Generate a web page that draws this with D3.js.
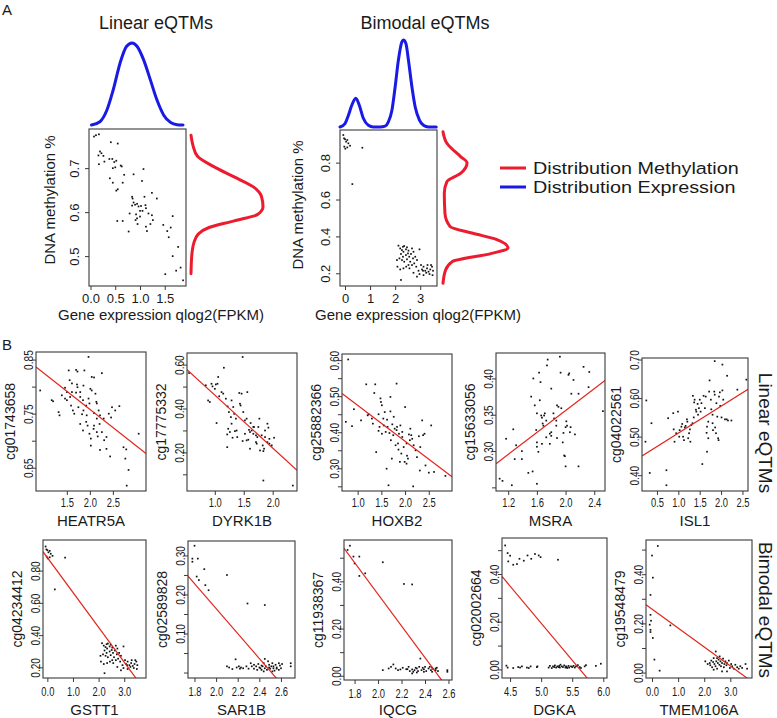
<!DOCTYPE html>
<html><head><meta charset="utf-8">
<script src="https://cdn.jsdelivr.net/npm/d3@7"></script>
<style>body{margin:0;background:#fff}svg{display:block}text{font-family:"Liberation Sans",Arial,Helvetica,sans-serif;fill:#1a1a1a}</style>
</head><body><svg id="c" width="777" height="718"></svg>
<script>
// ---------------- DATA ----------------
// Panel A, linear example
const linPoints=[[0.07,0.772],[0.11,0.775],[0.17,0.777],[0.19,0.738],[0.22,0.734],[0.16,0.729],[0.26,0.728],[0.17,0.709],[0.28,0.715],[0.41,0.759],[0.55,0.756],[0.38,0.721],[0.44,0.721],[0.48,0.714],[0.52,0.717],[0.45,0.70],[0.50,0.702],[0.39,0.677],[0.45,0.667],[0.52,0.649],[0.55,0.652],[0.65,0.667],[0.68,0.685],[0.61,0.706],[0.63,0.704],[1.07,0.698],[0.87,0.686],[1.04,0.671],[0.84,0.635],[0.85,0.631],[0.87,0.622],[0.90,0.617],[0.84,0.615],[0.94,0.619],[0.97,0.613],[1.02,0.614],[1.00,0.603],[1.05,0.603],[1.09,0.635],[1.11,0.616],[1.12,0.609],[1.17,0.597],[1.24,0.644],[1.34,0.631],[1.24,0.593],[1.26,0.582],[1.21,0.573],[0.79,0.597],[0.92,0.595],[0.94,0.586],[0.91,0.582],[0.95,0.573],[1.00,0.590],[0.54,0.580],[0.65,0.580],[0.77,0.556],[1.12,0.567],[1.14,0.557],[1.47,0.571],[1.55,0.557],[1.58,0.543],[1.66,0.591],[1.62,0.565],[1.77,0.521],[1.66,0.50],[1.51,0.459],[1.73,0.467],[1.82,0.474],[1.87,0.445]];
const linExprDensity=[[0.02,0],[0.19,0.04],[0.33,0.18],[0.46,0.43],[0.60,0.76],[0.73,0.96],[0.84,1.0],[0.94,0.96],[1.07,0.80],[1.21,0.55],[1.34,0.31],[1.48,0.12],[1.62,0.03],[1.75,0.004],[1.87,0]];
const linMethDensity=[[0.775,0],[0.75,0.03],[0.727,0.09],[0.704,0.31],[0.68,0.6],[0.658,0.86],[0.635,0.98],[0.612,1.0],[0.595,0.93],[0.58,0.6],[0.565,0.25],[0.55,0.1],[0.53,0.04],[0.5,0.01],[0.46,0]];
// Bimodal example (GSTT1 / cg04234412) - also panel B
const gsttPoints=[[-0.07,0.95],[-0.04,0.932],[0,0.927],[0.04,0.914],[0.09,0.923],[-0.03,0.887],[0.01,0.876],[0.09,0.883],[0.2,0.892],[0.13,0.905],[0.69,0.881],[0.29,0.684],[2.13,0.35],[2.2,0.335],[2.27,0.326],[2.31,0.344],[2.36,0.348],[2.33,0.317],[2.43,0.33],[2.47,0.341],[2.53,0.323],[2.51,0.308],[2.43,0.299],[2.31,0.29],[2.23,0.305],[2.17,0.281],[2.27,0.272],[2.36,0.263],[2.47,0.276],[2.56,0.29],[2.63,0.305],[2.67,0.335],[2.73,0.317],[2.71,0.281],[2.6,0.263],[2.53,0.245],[2.44,0.236],[2.33,0.227],[2.2,0.221],[2.57,0.227],[2.67,0.245],[2.76,0.254],[2.8,0.29],[2.87,0.272],[2.84,0.236],[2.97,0.33],[3.07,0.221],[3.13,0.236],[3.2,0.214],[3.27,0.227],[3.33,0.209],[3.4,0.221],[3.47,0.236],[3.51,0.214],[3.24,0.203],[3.13,0.19],[2.97,0.196],[2.87,0.182],[2.23,0.164],[3.43,0.245],[3.49,0.19],[2.07,0.272],[2.09,0.236],[2.93,0.214],[3.03,0.245],[2.73,0.203],[3.11,0.214],[3.29,0.245],[3.37,0.196]];
const biExprDensity=[[-0.2,0],[0,0.04],[0.13,0.13],[0.27,0.25],[0.43,0.33],[0.57,0.25],[0.73,0.1],[0.93,0.02],[1.13,0],[1.4,0],[1.6,0.01],[1.73,0.06],[1.87,0.19],[2.0,0.46],[2.13,0.77],[2.27,0.98],[2.33,1.0],[2.43,0.96],[2.53,0.77],[2.67,0.46],[2.8,0.23],[2.97,0.08],[3.13,0.02],[3.33,0],[3.64,0]];
const biMethDensity=[[0.968,0],[0.905,0.06],[0.833,0.27],[0.8,0.37],[0.742,0.27],[0.697,0.06],[0.634,0.02],[0.525,0.03],[0.453,0.11],[0.417,0.46],[0.384,0.82],[0.337,1.0],[0.308,0.75],[0.263,0.14],[0.218,0.04],[0.146,0]];
// Panel B, linear eQTMs
const heatr5aPoints=[[0.92,0.793],[1.17,0.775],[1.2,0.773],[1.32,0.753],[1.34,0.747],[1.54,0.83],[1.56,0.812],[1.7,0.831],[1.73,0.828],[1.88,0.83],[1.97,0.855],[2.04,0.818],[2.09,0.817],[2.26,0.825],[1.46,0.778],[1.5,0.775],[1.59,0.765],[1.63,0.756],[1.66,0.75],[1.5,0.79],[1.61,0.79],[1.7,0.789],[1.79,0.79],[1.61,0.806],[1.72,0.804],[1.73,0.799],[1.79,0.781],[1.85,0.775],[1.86,0.756],[1.92,0.765],[1.97,0.778],[1.99,0.769],[2.01,0.796],[2.04,0.793],[2.12,0.787],[2.14,0.772],[2.15,0.769],[1.79,0.731],[1.85,0.719],[1.92,0.735],[1.95,0.728],[1.99,0.713],[2.02,0.704],[2.08,0.722],[2.09,0.728],[2.15,0.716],[2.17,0.708],[2.21,0.731],[2.22,0.747],[2.3,0.741],[2.26,0.716],[2.31,0.701],[2.36,0.707],[2.02,0.691],[2.22,0.683],[2.36,0.685],[2.44,0.671],[2.41,0.75],[2.46,0.743],[2.55,0.756],[2.64,0.764],[2.48,0.762],[2.73,0.688],[2.79,0.684],[2.77,0.667],[2.84,0.646],[2.8,0.617],[3.06,0.713],[1.86,0.802],[1.46,0.798],[1.39,0.784],[1.57,0.781],[1.75,0.762],[1.83,0.749],[1.93,0.747],[2.15,0.741],[2.09,0.751],[2.19,0.756]];
const dyrk1bPoints=[[0.555,0.562],[0.844,0.506],[0.884,0.437],[0.913,0.43],[0.96,0.501],[1.0,0.49],[1.046,0.513],[1.058,0.544],[1.156,0.586],[1.116,0.475],[1.145,0.468],[1.19,0.445],[1.03,0.334],[1.22,0.41],[1.243,0.384],[1.289,0.437],[1.318,0.407],[1.277,0.361],[1.289,0.331],[1.26,0.293],[1.231,0.308],[1.214,0.224],[1.335,0.376],[1.364,0.354],[1.376,0.3],[1.422,0.471],[1.434,0.422],[1.445,0.414],[1.462,0.468],[1.48,0.635],[1.491,0.384],[1.52,0.346],[1.549,0.354],[1.561,0.475],[1.59,0.303],[1.607,0.293],[1.549,0.255],[1.578,0.258],[1.52,0.285],[1.618,0.334],[1.636,0.3],[1.665,0.285],[1.676,0.316],[1.607,0.217],[1.711,0.247],[1.734,0.27],[1.751,0.316],[1.769,0.354],[1.723,0.24],[1.809,0.278],[1.827,0.232],[1.85,0.217],[1.838,0.206],[1.867,0.27],[1.867,0.3],[1.908,0.331],[1.925,0.313],[1.942,0.262],[1.78,0.209],[1.908,0.247],[1.942,0.24],[1.711,0.278],[1.665,0.316],[1.838,0.072],[2.347,0.049],[1.983,0.232],[2.023,0.267],[1.214,0.282],[1.306,0.267],[1.387,0.27],[1.347,0.297],[1.48,0.252],[1.017,0.51],[1.075,0.456],[0.942,0.513]];
const hoxb2Points=[[0.80,0.602],[0.75,0.429],[0.88,0.417],[0.92,0.464],[1.07,0.433],[1.18,0.533],[1.21,0.447],[1.23,0.45],[1.30,0.438],[1.32,0.424],[1.35,0.509],[1.37,0.533],[1.39,0.345],[1.44,0.45],[1.46,0.415],[1.48,0.494],[1.49,0.484],[1.51,0.475],[1.54,0.438],[1.55,0.419],[1.57,0.456],[1.59,0.401],[1.61,0.299],[1.62,0.435],[1.63,0.415],[1.65,0.253],[1.67,0.398],[1.69,0.498],[1.69,0.458],[1.70,0.378],[1.72,0.327],[1.73,0.422],[1.75,0.392],[1.76,0.443],[1.78,0.41],[1.80,0.364],[1.82,0.535],[1.83,0.415],[1.85,0.369],[1.86,0.352],[1.87,0.396],[1.90,0.419],[1.92,0.341],[1.94,0.401],[1.94,0.387],[1.97,0.359],[1.99,0.318],[2.00,0.47],[2.03,0.369],[2.04,0.335],[2.06,0.327],[2.08,0.394],[2.10,0.378],[2.11,0.41],[2.13,0.392],[2.15,0.382],[2.17,0.25],[2.18,0.364],[2.22,0.35],[2.25,0.331],[2.29,0.389],[2.31,0.294],[2.32,0.359],[2.36,0.433],[2.38,0.392],[2.41,0.396],[2.43,0.308],[2.50,0.288],[2.55,0.419],[2.61,0.29],[2.85,0.279],[1.51,0.396],[1.44,0.404],[1.82,0.406],[1.89,0.318],[2.03,0.313]];
const msraPoints=[[1.08,0.262],[1.12,0.259],[1.25,0.253],[1.17,0.317],[1.27,0.330],[1.31,0.308],[1.29,0.289],[1.39,0.30],[1.39,0.289],[1.48,0.270],[1.54,0.272],[1.52,0.375],[1.55,0.40],[1.59,0.329],[1.60,0.312],[1.60,0.306],[1.62,0.299],[1.60,0.255],[1.63,0.408],[1.64,0.370],[1.65,0.395],[1.66,0.349],[1.67,0.346],[1.68,0.338],[1.69,0.335],[1.71,0.352],[1.73,0.342],[1.74,0.418],[1.75,0.426],[1.78,0.324],[1.80,0.321],[1.80,0.326],[1.80,0.386],[1.83,0.352],[1.84,0.345],[1.87,0.342],[1.87,0.335],[1.88,0.363],[1.90,0.361],[1.92,0.43],[1.93,0.408],[1.94,0.359],[1.97,0.325],[1.98,0.294],[1.99,0.293],[2.00,0.279],[2.00,0.333],[2.01,0.341],[2.02,0.335],[2.04,0.405],[2.05,0.407],[2.06,0.326],[2.07,0.333],[2.08,0.379],[2.11,0.398],[2.13,0.323],[2.18,0.379],[2.18,0.279],[2.25,0.416],[2.33,0.409],[2.32,0.388],[2.52,0.355],[1.78,0.310],[1.73,0.319],[1.67,0.310],[1.88,0.318],[1.96,0.312],[1.57,0.363],[1.60,0.352],[1.70,0.349]];
const isl1Points=[[0.25,0.594],[0.23,0.487],[0.33,0.406],[0.37,0.535],[0.72,0.413],[0.76,0.548],[0.88,0.561],[0.89,0.519],[0.91,0.487],[0.95,0.509],[0.99,0.565],[1.02,0.50],[1.03,0.517],[1.07,0.526],[1.09,0.533],[1.11,0.50],[1.13,0.491],[1.15,0.524],[1.17,0.528],[1.20,0.545],[1.21,0.539],[1.23,0.496],[1.25,0.509],[1.27,0.519],[1.28,0.487],[1.30,0.530],[1.33,0.535],[1.34,0.606],[1.36,0.550],[1.37,0.589],[1.38,0.596],[1.41,0.570],[1.42,0.565],[1.45,0.585],[1.46,0.557],[1.48,0.574],[1.50,0.596],[1.52,0.565],[1.54,0.587],[1.56,0.429],[1.59,0.606],[1.62,0.574],[1.64,0.604],[1.66,0.510],[1.67,0.526],[1.67,0.461],[1.70,0.539],[1.70,0.496],[1.72,0.617],[1.73,0.646],[1.76,0.596],[1.77,0.571],[1.80,0.535],[1.81,0.517],[1.84,0.617],[1.85,0.609],[1.86,0.524],[1.88,0.509],[1.89,0.587],[1.91,0.552],[1.93,0.496],[1.94,0.491],[1.95,0.604],[1.97,0.615],[1.98,0.580],[2.01,0.550],[2.03,0.620],[2.05,0.596],[2.09,0.545],[2.13,0.545],[2.16,0.542],[2.24,0.542],[1.85,0.696],[2.03,0.687],[2.14,0.658],[2.59,0.648],[2.38,0.622],[0.72,0.374],[1.80,0.557]];
// Panel B, bimodal eQTMs
const sar1bPoints=[[1.80,0.325],[1.78,0.292],[1.78,0.284],[1.83,0.292],[1.82,0.246],[1.84,0.237],[1.89,0.265],[1.90,0.224],[1.93,0.211],[2.10,0.250],[2.29,0.177],[2.45,0.173],[2.10,0.016],[2.15,0.009],[2.18,0.034],[2.19,0.013],[2.21,0.016],[2.22,0.010],[2.25,0.011],[2.28,0.016],[2.30,0.010],[2.32,0.024],[2.33,0.016],[2.35,0.020],[2.35,0.010],[2.37,0.016],[2.38,0.007],[2.39,0.022],[2.40,0.013],[2.41,0.011],[2.42,0.018],[2.42,0.007],[2.43,0.016],[2.44,0.024],[2.45,0.011],[2.45,0.035],[2.46,0.016],[2.47,0.007],[2.48,0.029],[2.49,0.013],[2.49,0.020],[2.50,0.010],[2.51,0.016],[2.52,0.024],[2.53,0.011],[2.53,0.016],[2.54,0.005],[2.55,0.020],[2.56,0.010],[2.56,0.013],[2.58,0.007],[2.59,0.018],[2.60,0.011],[2.61,0.022],[2.58,0.024],[2.52,0.003],[2.44,0.003],[2.69,0.024],[2.69,0.016],[2.23,0.013],[2.12,0.013]];
const iqcgPoints=[[1.74,0.533],[1.76,0.551],[1.79,0.505],[1.80,0.476],[1.84,0.505],[1.84,0.423],[1.89,0.434],[2.04,0.481],[2.22,0.389],[2.29,0.387],[2.04,0.024],[2.09,0.031],[2.11,0.038],[2.13,0.048],[2.15,0.031],[2.17,0.024],[2.21,0.034],[2.24,0.028],[2.26,0.038],[2.27,0.020],[2.29,0.027],[2.30,0.017],[2.31,0.024],[2.32,0.034],[2.33,0.014],[2.33,0.031],[2.34,0.020],[2.35,0.038],[2.36,0.073],[2.37,0.024],[2.38,0.034],[2.39,0.017],[2.39,0.028],[2.40,0.038],[2.41,0.020],[2.43,0.031],[2.44,0.038],[2.45,0.024],[2.46,0.034],[2.47,0.028],[2.49,0.031],[2.49,0.024],[2.50,0.034],[2.51,0.020],[2.59,0.024],[2.59,0.017],[2.29,0.010],[2.25,0.028],[2.19,0.027],[2.46,0.017]];
const dgkaPoints=[[4.42,0.520],[4.46,0.488],[4.47,0.453],[4.50,0.477],[4.55,0.439],[4.61,0.442],[4.65,0.464],[4.72,0.456],[4.78,0.478],[4.84,0.464],[4.90,0.484],[4.96,0.478],[4.99,0.471],[5.27,0.460],[4.44,0.016],[4.46,0.008],[4.55,0.006],[4.63,0.01],[4.66,0.008],[4.69,0.013],[4.77,0.008],[4.80,0.006],[4.83,0.013],[4.93,0.01],[4.94,0.013],[5.12,0.008],[5.14,0.015],[5.17,0.006],[5.19,0.013],[5.21,0.01],[5.22,0.017],[5.24,0.008],[5.26,0.013],[5.28,0.01],[5.29,0.015],[5.30,0.008],[5.33,0.013],[5.35,0.01],[5.37,0.017],[5.39,0.008],[5.40,0.013],[5.41,0.01],[5.44,0.015],[5.45,0.008],[5.48,0.013],[5.50,0.01],[5.52,0.015],[5.54,0.008],[5.56,0.013],[5.59,0.018],[5.62,0.01],[5.64,0.006],[5.70,0.013],[5.72,0.018],[5.88,0.015],[5.96,0.024],[5.42,0.006],[5.31,0.02]];
const tmem106aPoints=[[0.22,0.515],[0.0,0.476],[0.03,0.386],[-0.06,0.316],[-0.06,0.235],[-0.04,0.211],[-0.09,0.195],[-0.06,0.174],[-0.06,0.165],[0.03,0.141],[0.09,0.053],[0.29,0.008],[0.70,0.192],[2.04,0.046],[2.13,0.035],[2.21,0.039],[2.23,0.030],[2.27,0.049],[2.30,0.022],[2.34,0.043],[2.36,0.059],[2.39,0.035],[2.43,0.026],[2.44,0.086],[2.46,0.046],[2.49,0.016],[2.52,0.039],[2.55,0.053],[2.58,0.032],[2.59,0.066],[2.62,0.046],[2.64,0.026],[2.68,0.039],[2.72,0.057],[2.75,0.022],[2.77,0.035],[2.81,0.046],[2.85,0.030],[2.87,0.039],[2.94,0.049],[2.98,0.019],[3.03,0.035],[3.07,0.026],[3.13,0.016],[3.19,0.032],[3.26,0.022],[3.32,0.016],[3.38,0.026],[3.45,0.019],[3.58,0.035],[3.64,0.016],[2.87,0.005],[2.68,0.005],[2.49,0.059],[2.36,0.012]];
// fitted regression lines [intercept, slope]
const fitHEATR5A=[0.892,-0.067], fitDYRK1B=[0.703,-0.2416], fitHOXB2=[0.574,-0.0996], fitMSRA=[0.205,0.0753], fitISL1=[0.4395,0.0698];
const fitGSTT1=[0.881,-0.2163], fitSAR1B=[0.804,-0.32], fitIQCG=[1.687,-0.671], fitDGKA=[1.749,-0.311], fitTMEM106A=[0.258,-0.077];
// tick values
const tA1x=[0,0.5,1,1.5], tA1y=[0.5,0.6,0.7], tA2x=[0,1,2,3], tA2y=[0.2,0.4,0.6,0.8];
const legendLabels=["Distribution Methylation","Distribution Expression"];

// ---------------- DRAWING ----------------
const svg=d3.select("#c");
const RED="#ec1b2e", BLUE="#1a1ae6", FITRED="#e3231c";
let clipN=0;

function rotText(g,x,y,txt,size,sx,ang){
  return g.append("text").attr("transform",`translate(${x},${y}) rotate(${ang}) scale(${sx},1)`)
    .attr("text-anchor","middle").attr("dy","0.36em").style("font-size",size+"px").text(txt);
}

function scatter(cfg){
  const [l,t,r,b]=cfg.box;
  const x=d3.scaleLinear().domain(cfg.xd).range([l,r]);
  const y=d3.scaleLinear().domain(cfg.yd).range([b,t]);
  const id="cl"+(clipN++);
  svg.append("clipPath").attr("id",id).append("rect").attr("x",l).attr("y",t).attr("width",r-l).attr("height",b-t);
  const g=svg.append("g");
  g.append("g").selectAll("rect").data(cfg.pts).join("rect")
    .attr("x",d=>x(d[0])-0.8).attr("y",d=>y(d[1])-0.8).attr("width",1.7).attr("height",1.7).attr("fill","#111");
  if(cfg.fit){
    const [a,s]=cfg.fit;
    g.append("line").attr("clip-path",`url(#${id})`)
      .attr("x1",x(cfg.xd[0])).attr("y1",y(a+s*cfg.xd[0])).attr("x2",x(cfg.xd[1])).attr("y2",y(a+s*cfg.xd[1]))
      .attr("stroke",FITRED).attr("stroke-width",1.2);
  }
  g.append("rect").attr("x",l).attr("y",t).attr("width",r-l).attr("height",b-t)
    .attr("fill","none").attr("stroke","#3a3a3a").attr("stroke-width",1.1);
  const ax=g.append("g").attr("transform",`translate(0,${b})`)
    .call(d3.axisBottom(x).tickValues(cfg.xt).tickSize(cfg.tk).tickFormat(d3.format(cfg.xf)));
  ax.select(".domain").remove();
  ax.selectAll("line").attr("stroke","#3a3a3a");
  ax.selectAll("text").attr("y",null).attr("dy",null)
    .attr("transform",`translate(0,${cfg.xlo}) scale(${cfg.sx},1)`).style("font-size",cfg.fs+"px");
  const ay=g.append("g").attr("transform",`translate(${l},0)`)
    .call(d3.axisLeft(y).tickValues(cfg.yt).tickSize(cfg.tk).tickFormat(d=>cfg.yl.some(v=>Math.abs(v-d)<1e-9)?d3.format(cfg.yf)(d):""));
  ay.select(".domain").remove();
  ay.selectAll("line").attr("stroke","#3a3a3a");
  ay.selectAll("text").attr("x",null).attr("dy","0.36em").attr("text-anchor","middle")
    .attr("transform",`translate(${-cfg.ylo},0) rotate(-90) scale(${cfg.sy},1)`).style("font-size",cfg.fs+"px");
  ax.attr("font-family",null); ay.attr("font-family",null);
  if(cfg.xt2) g.append("text").attr("x",cfg.xt2[1]).attr("y",cfg.xt2[2]).attr("text-anchor","middle").style("font-size",cfg.tfs+"px").text(cfg.xt2[0]);
  if(cfg.yt2) rotText(g,cfg.yt2[1],cfg.yt2[2],cfg.yt2[0],cfg.yfs||cfg.tfs,1,-90);
  return {x,y};
}

// ---- Panel A ----
svg.append("text").attr("x",2).attr("y",15).style("font-size","15px").text("A");
svg.append("text").attr("x",156).attr("y",29).attr("text-anchor","middle").style("font-size","18px").text("Linear eQTMs");
svg.append("text").attr("x",425).attr("y",29).attr("text-anchor","middle").style("font-size","18px").text("Bimodal eQTMs");

const A1=scatter({box:[89,129,186,286],xd:[-0.03,1.93],yd:[0.432,0.789],pts:linPoints,
  xt:tA1x,xf:".1f",yt:tA1y,yl:tA1y,yf:".1f",tk:4,xlo:17,ylo:15,fs:13,sx:1,sy:1,tfs:15,
  xt2:["Gene expression qlog2(FPKM)",161,320],yt2:["DNA methylation %",50,200]});
const A2=scatter({box:[340,130,437,286],xd:[-0.2,3.67],yd:[0.131,0.977],pts:gsttPoints,
  xt:tA2x,xf:"d",yt:tA2y,yl:tA2y,yf:".1f",tk:4,xlo:17,ylo:15,fs:13,sx:1,sy:1,tfs:15,
  xt2:["Gene expression qlog2(FPKM)",418,320],yt2:["DNA methylation %",298,205]});

function topDensity(sc,data,base,peak){
  const h=d3.scaleLinear().domain([0,1]).range([base,peak]);
  svg.append("path").datum(data).attr("fill","none").attr("stroke",BLUE).attr("stroke-width",3).attr("stroke-linecap","round")
    .attr("d",d3.line().x(d=>sc.x(d[0])).y(d=>h(d[1])).curve(d3.curveMonotoneX));
}
function rightDensity(sc,data,base,peak){
  const w=d3.scaleLinear().domain([0,1]).range([base,peak]);
  svg.append("path").datum(data).attr("fill","none").attr("stroke",RED).attr("stroke-width",3).attr("stroke-linecap","round")
    .attr("d",d3.line().x(d=>w(d[1])).y(d=>sc.y(d[0])).curve(d3.curveMonotoneY));
}
topDensity(A1,linExprDensity,125,43);
rightDensity(A1,linMethDensity,191,263);
topDensity(A2,biExprDensity,127,40);
rightDensity(A2,biMethDensity,443,508);

const lg=svg.append("g");
[RED,BLUE].forEach((c,i)=>{
  lg.append("line").attr("x1",500).attr("x2",526).attr("y1",168+i*19).attr("y2",168+i*19).attr("stroke",c).attr("stroke-width",3);
  lg.append("text").attr("transform",`translate(533,${168+i*19}) scale(1.2,1)`).attr("dy","0.35em").style("font-size","16.5px").text(legendLabels[i]);
});

// ---- Panel B ----
svg.append("text").attr("x",2).attr("y",350).style("font-size","15px").text("B");
const bRow1=[
  {box:[36,352,146,491],xd:[0.83,3.22],yd:[0.607,0.864],pts:heatr5aPoints,fit:fitHEATR5A,xt:[1.5,2.0,2.5],xf:".1f",yt:[0.65,0.70,0.75,0.80,0.85],yl:[0.65,0.75,0.85],yf:".2f",gene:"HEATR5A",cg:"cg01743658"},
  {box:[187,353,297,491],xd:[0.52,2.42],yd:[0.024,0.653],pts:dyrk1bPoints,fit:fitDYRK1B,xt:[1.0,1.5,2.0],xf:".1f",yt:[0.1,0.2,0.3,0.4,0.5,0.6],yl:[0.2,0.4,0.6],yf:".2f",gene:"DYRK1B",cg:"cg17775332"},
  {box:[342,354,452,491],xd:[0.67,2.99],yd:[0.237,0.617],pts:hoxb2Points,fit:fitHOXB2,xt:[1.0,1.5,2.0,2.5],xf:".1f",yt:[0.25,0.3,0.35,0.4,0.45,0.5,0.55,0.6],yl:[0.3,0.4,0.5,0.6],yf:".2f",gene:"HOXB2",cg:"cg25882366"},
  {box:[496,353,605,491],xd:[1.03,2.55],yd:[0.245,0.435],pts:msraPoints,fit:fitMSRA,xt:[1.2,1.6,2.0,2.4],xf:".1f",yt:[0.25,0.3,0.35,0.4],yl:[0.3,0.35,0.4],yf:".2f",gene:"MSRA",cg:"cg15633056"},
  {box:[642,358,748,491],xd:[0.15,2.63],yd:[0.359,0.704],pts:isl1Points,fit:fitISL1,xt:[0.5,1.0,1.5,2.0,2.5],xf:".1f",yt:[0.4,0.5,0.6,0.7],yl:[0.4,0.5,0.6,0.7],yf:".2f",gene:"ISL1",cg:"cg04022561"}
];
const bRow2=[
  {box:[43,540,146,678],xd:[-0.17,3.85],yd:[0.134,0.99],pts:gsttPoints,fit:fitGSTT1,xt:[0,1,2,3],xf:".1f",yt:[0.2,0.4,0.6,0.8],yl:[0.2,0.4,0.6,0.8],yf:".2f",gene:"GSTT1",cg:"cg04234412"},
  {box:[188,541,295,678],xd:[1.74,2.73],yd:[-0.014,0.337],pts:sar1bPoints,fit:fitSAR1B,xt:[1.8,2.0,2.2,2.4,2.6],xf:".1f",yt:[0.0,0.05,0.1,0.15,0.2,0.25,0.3],yl:[0.1,0.2,0.3],yf:".2f",gene:"SAR1B",cg:"cg02589828"},
  {box:[344,540,452,680],xd:[1.71,2.63],yd:[-0.018,0.575],pts:iqcgPoints,fit:fitIQCG,xt:[1.8,2.0,2.2,2.4,2.6],xf:".1f",yt:[0,0.1,0.2,0.3,0.4,0.5],yl:[0,0.2,0.4],yf:".2f",gene:"IQCG",cg:"cg11938367"},
  {box:[502,538,607,678],xd:[4.37,6.06],yd:[-0.036,0.551],pts:dgkaPoints,fit:fitDGKA,xt:[4.5,5.0,5.5,6.0],xf:".1f",yt:[0,0.1,0.2,0.3,0.4,0.5],yl:[0,0.2,0.4],yf:".2f",gene:"DGKA",cg:"cg02002664"},
  {box:[646,540,752,678],xd:[-0.23,3.83],yd:[-0.022,0.539],pts:tmem106aPoints,fit:fitTMEM106A,xt:[0,1,2,3],xf:".1f",yt:[0,0.1,0.2,0.3,0.4,0.5],yl:[0,0.2,0.4],yf:".2f",gene:"TMEM106A",cg:"cg19548479"}
];
[bRow1,bRow2].forEach((row,ri)=>{
  row.forEach(c=>{
    const [l,t,r,b]=c.box;
    scatter(Object.assign({tk:4,xlo:ri?18:16,ylo:8,fs:13,sx:0.72,sy:0.78,tfs:15,yfs:14,
      xt2:[c.gene,(l+r)/2,ri?715:526],yt2:[c.cg,l-26,(t+b)/2]},c));
  });
});
rotText(svg,766,433,"Linear eQTMs",19,1,90);
rotText(svg,766,610,"Bimodal eQTMs",19,1,90);
</script></body></html>
